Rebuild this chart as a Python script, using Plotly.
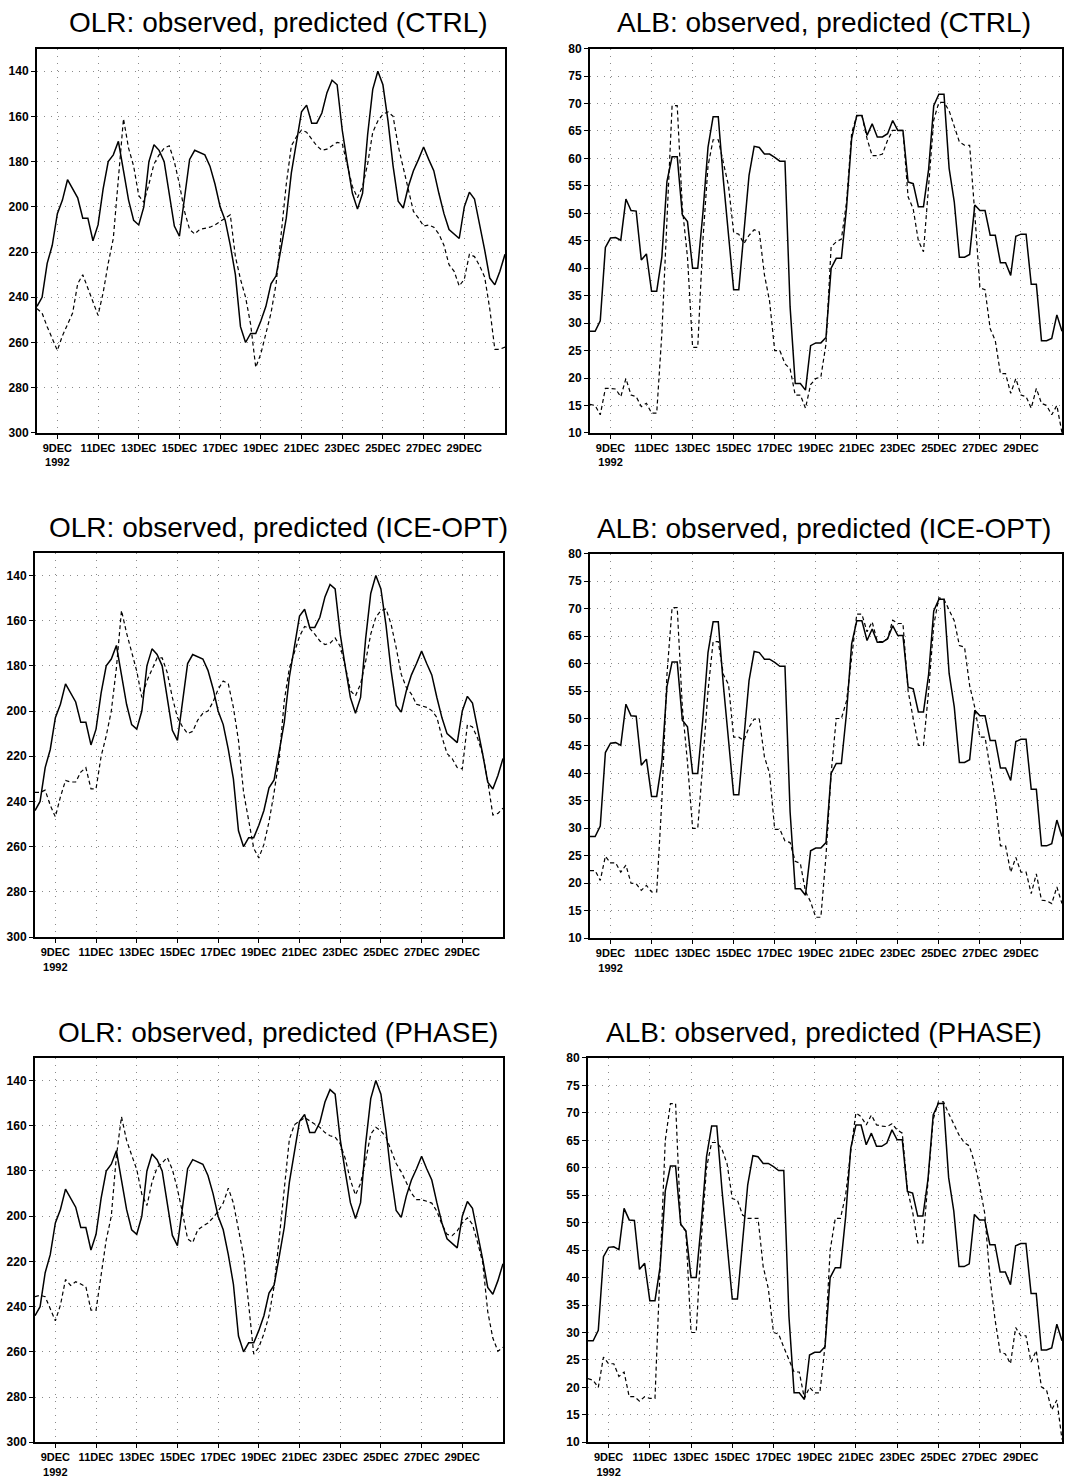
import plotly.graph_objects as go
import pandas as pd

# 6-hourly samples, 8 DEC 1992 00Z .. 31 DEC 1992 00Z
times = pd.date_range("1992-12-08 00:00", periods=93, freq="6h")

olr_obs = [244, 240, 225, 217, 203, 197, 188, 192, 196, 205,
           205, 215, 208, 192, 180, 177, 171, 184, 197, 206,
           208, 200, 180, 172.5, 175, 180, 194, 208.5, 213, 197,
           179, 175, 176, 177, 182, 190, 200, 206, 217, 230,
           253, 260, 256, 256, 250.5, 244, 234, 230.5, 218, 205,
           185, 172, 158, 155, 163, 163, 158.5, 149.5, 144, 146,
           166, 180.5, 194, 201, 194, 168, 148, 140, 146, 162,
           182, 197.5, 200.5, 191, 184, 179, 173.5, 179, 184, 194,
           203, 210, 212, 214, 200, 193.5, 196.5, 207.5, 219, 231.5,
           234.5, 228.5, 221]

olr_ctrl = [245, 247, 253, 258, 263.5, 257, 252, 247, 234, 230,
            236, 242.5, 248, 238, 225, 214, 188, 161, 174, 182,
            195, 198, 190, 181, 177, 174, 173, 180, 190, 202,
            210, 212, 210, 209.5, 209, 208, 206.5, 205, 203.5, 222,
            232, 240, 252, 271, 265, 256, 247, 234, 213, 190,
            173, 169, 166, 167, 170, 173, 175, 174.5, 173, 171.5,
            172, 181.5, 191, 196, 191, 181, 167, 162, 159, 158,
            160, 173, 183, 193, 202, 205, 208.5, 208, 209, 212,
            217, 225.6, 228.5, 235, 232, 221, 222, 226, 231, 245,
            263, 263, 262]

olr_ice = [236, 236, 235, 241.7, 246.8, 238, 230.7, 231.4, 231.4, 227,
           225, 234.4, 234.4, 220, 211, 200, 181, 155.5, 165.5, 173.6,
           182.3, 194, 186.7, 181.6, 176.5, 176.5, 183, 194, 202.8, 207,
           210, 209, 204, 201, 200, 196, 190.4, 186.7, 188, 198.4,
           213, 236, 249, 260.7, 265, 259, 249, 236, 221, 195.5,
           181, 173.6, 167, 162.6, 163.4, 166, 169, 170.6, 170, 167.7,
           171.4, 180, 191, 193.3, 188, 178, 166, 158.5, 155.6, 154.8,
           161.6, 172, 183.8, 189.6, 192.5, 197, 197.7, 198.4, 199.8, 202.8,
           211.5, 218.8, 221, 225, 225.6, 206, 207, 212, 219, 231,
           246, 245.3, 243]

olr_phase = [235.6, 235, 235.6, 240.7, 246.3, 239.3, 228, 230.6, 229, 230,
             231.2, 241.5, 241.5, 226, 210.5, 200, 173.4, 156, 166.4, 173,
             179.3, 190.3, 195.3, 185, 178.5, 176.4, 174, 179.3, 188, 198.5,
             210, 211.7, 206, 204.4, 203, 200.7, 197.8, 194.2, 187.6, 194.2,
             206, 217.5, 239, 261, 258, 252, 244, 231, 210, 188,
             166, 159.5, 157.8, 156.4, 157.8, 159.3, 160.7, 163, 164.4, 165,
             168, 174.6, 184, 190.6, 185.5, 175.3, 163.7, 160.7, 162.3, 165,
             170.9, 176.7, 180.4, 185.5, 189.8, 192.7, 192.7, 193.4, 194.2, 197.8,
             203.6, 208, 208.6, 206.5, 203, 200.7, 203.6, 211.6, 220.3, 242.2,
             253.9, 259.7, 258]

alb_obs = [28.5, 28.5, 30.4, 43.8, 45.5, 45.6, 45.1, 52.6, 50.5, 50.4,
           41.5, 42.6, 35.8, 35.8, 42, 55.8, 60.3, 60.3, 49.7, 48.5,
           40, 40, 50, 62, 67.6, 67.6, 56, 46, 36.1, 36.1,
           46, 56.9, 62.2, 62, 60.8, 60.8, 60.2, 59.5, 59.5, 33,
           19, 19, 17.8, 25.9, 26.4, 26.4, 27.4, 40, 41.8, 41.8,
           51, 63.6, 67.8, 67.8, 64.2, 66.3, 63.9, 63.9, 64.5, 66.9,
           65.1, 65.1, 55.7, 55.4, 51.2, 51.2, 58, 69.6, 71.7, 71.7,
           58.2, 52.1, 42, 42, 42.5, 51.5, 50.5, 50.5, 46, 46,
           41, 41, 38.7, 45.8, 46.2, 46.2, 37.1, 37.1, 26.8, 26.8,
           27.2, 31.5, 28.5]

alb_ctrl = [15.2, 15, 13.3, 18.1, 18.1, 18, 16.6, 19.9, 16.9, 16.6,
            14.8, 15.4, 13.6, 13.6, 28, 50, 69.6, 69.6, 51, 42,
            25.6, 25.6, 45, 58.6, 63.4, 63.4, 59, 55, 46.5, 46.2,
            44.5, 46, 47, 46.6, 38.8, 34, 25, 25, 22.6, 21.7,
            16.9, 16.9, 14.5, 18.8, 19.9, 20.2, 26.2, 43.9, 44.8, 45.3,
            52, 64.6, 67.8, 67.8, 63.6, 60.5, 60.5, 60.8, 63.3, 65.1,
            65.1, 65.1, 53, 50.8, 45, 43, 55, 67, 70.2, 70.2,
            68.7, 66, 63, 62.4, 62.4, 50, 36.4, 36.1, 29, 26.8,
            20.8, 20.8, 17.2, 19.9, 16.9, 16.6, 14.5, 18.1, 15.4, 15,
            13.3, 15, 10]

alb_ice = [22.3, 22.3, 20.5, 24.9, 23.7, 23.7, 22, 23.3, 20, 19.9,
           18.7, 19.6, 18.4, 18.4, 35, 58, 70.2, 70.2, 52, 42,
           30, 30, 42, 55, 64, 64, 58, 56.2, 46.6, 46.6,
           46, 48.4, 49.9, 49.9, 43, 40, 29.8, 29.8, 27.7, 27.4,
           24, 23.6, 18.5, 16.6, 13.8, 13.8, 25, 40, 50, 50,
           53.2, 61.6, 69, 69, 65.8, 67.6, 64, 64, 64.5, 67.9,
           67.3, 67.3, 55, 50, 45.1, 45.1, 55, 67, 72, 71.7,
           69.6, 67.8, 63.3, 63, 56, 52, 46.6, 46.6, 40.9, 35.2,
           26.8, 26.8, 22, 24.7, 22, 22, 18.1, 21.7, 16.9, 16.8,
           16.3, 19.3, 16.3]

alb_phase = [21.6, 21.3, 20, 25.5, 24.3, 24.3, 22, 22.8, 18.3, 18.3,
             17.5, 18.3, 18, 18, 42, 65, 71.7, 71.7, 49.6, 48.4,
             30, 30, 47, 60, 64.6, 64.6, 63.4, 60.7, 54.4, 54.1,
             51.4, 50.8, 50.8, 50.8, 42, 38, 30, 29.7, 27.3, 24.9,
             22.8, 22.8, 18, 20, 19, 19, 27.5, 45, 50.8, 50.8,
             55, 63, 70, 69.3, 67.8, 69.6, 67.8, 67.6, 67.5, 68,
             66.9, 66.3, 56, 52, 46.3, 46.3, 57, 68.8, 72, 72,
             69.9, 68.1, 66, 64.6, 64, 61, 56.8, 51.7, 40, 32.4,
             26.4, 26.1, 24.3, 30.9, 29.4, 29.4, 24.6, 26.7, 20.1, 19.5,
             15.9, 17.7, 10.5]

x_tick_dates = ["1992-12-09", "1992-12-11", "1992-12-13", "1992-12-15", "1992-12-17",
                "1992-12-19", "1992-12-21", "1992-12-23", "1992-12-25", "1992-12-27",
                "1992-12-29"]
x_tick_text = ["9DEC<br>1992", "11DEC", "13DEC", "15DEC", "17DEC", "19DEC",
               "21DEC", "23DEC", "25DEC", "27DEC", "29DEC"]
olr_ticks = [140, 160, 180, 200, 220, 240, 260, 280, 300]
alb_ticks = [10, 15, 20, 25, 30, 35, 40, 45, 50, 55, 60, 65, 70, 75, 80]

titles = ["OLR: observed, predicted (CTRL)", "ALB: observed, predicted (CTRL)",
          "OLR: observed, predicted (ICE-OPT)", "ALB: observed, predicted (ICE-OPT)",
          "OLR: observed, predicted (PHASE)", "ALB: observed, predicted (PHASE)"]

W, H = 1076, 1479
# pixel boxes: (left, right, top, bottom)
boxes = [(37, 505, 42, 430), (590, 1062, 42, 430),
         (35, 503, 551, 939), (590, 1062, 552, 940),
         (35, 503, 1061, 1449), (588, 1062, 1061, 1449)]
series = [(olr_obs, olr_ctrl), (alb_obs, alb_ctrl),
          (olr_obs, olr_ice), (alb_obs, alb_ice),
          (olr_obs, olr_phase), (alb_obs, alb_phase)]

tick_font_family = "Liberation Sans, Arial, sans-serif"

fig = go.Figure()
layout = dict(width=W, height=H, margin=dict(l=0, r=0, t=0, b=0),
              paper_bgcolor="white", plot_bgcolor="white", showlegend=False,
              font=dict(family=tick_font_family, size=12, color="black"))
annotations = []
for k in range(6):
    n = "" if k == 0 else str(k + 1)
    l, r, t, b = boxes[k]
    obs, pred = series[k]
    is_olr = (k % 2 == 0)
    fig.add_trace(go.Scatter(x=times, y=pred, mode="lines", xaxis="x" + n, yaxis="y" + n,
                             line=dict(color="black", width=1.2, dash="4px,3px")))
    fig.add_trace(go.Scatter(x=times, y=obs, mode="lines", xaxis="x" + n, yaxis="y" + n,
                             line=dict(color="black", width=1.5)))
    common = dict(showline=True, linecolor="black", linewidth=2, mirror=True,
                  ticks="outside", ticklen=4, tickwidth=1, tickcolor="black",
                  showgrid=True, gridcolor="#8a8a8a", gridwidth=1, griddash="1px,6px",
                  zeroline=False)
    layout["xaxis" + n] = dict(common, domain=[l / W, r / W], anchor="y" + n, type="date",
                               range=["1992-12-08 00:00", "1992-12-31 00:00"],
                               tickmode="array", tickvals=x_tick_dates, ticktext=x_tick_text,
                               tickangle=0,
                               tickfont=dict(family=tick_font_family, size=11, color="black",
                                             weight="bold"))
    yfont = dict(family=tick_font_family, size=12, color="black", weight="bold")
    if is_olr:
        layout["yaxis" + n] = dict(common, domain=[1 - b / H, 1 - t / H], anchor="x" + n,
                                   range=[300, 130], tickmode="array", tickvals=olr_ticks,
                                   tickfont=yfont)
    else:
        layout["yaxis" + n] = dict(common, domain=[1 - b / H, 1 - t / H], anchor="x" + n,
                                   range=[10, 80], tickmode="array", tickvals=alb_ticks,
                                   tickfont=yfont)
    cx = 278 if is_olr else 824
    annotations.append(dict(text=titles[k], x=cx / W, y=1 - (t - 26) / H, xref="paper", yref="paper",
                            xanchor="center", yanchor="middle", showarrow=False,
                            font=dict(family=tick_font_family, size=28, color="black")))
layout["annotations"] = annotations
fig.update_layout(**layout)
fig.write_html("out.html")
